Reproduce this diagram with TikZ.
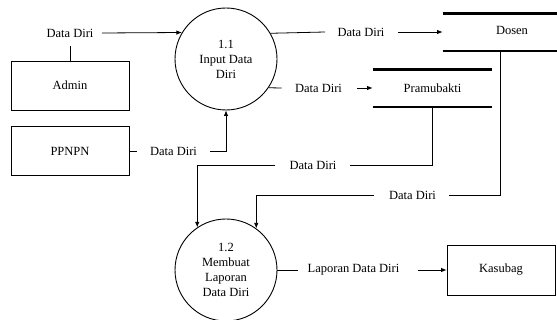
\documentclass[tikz,border=0pt]{standalone}
\usepackage{fontspec}
\setmainfont{Liberation Serif}
\newfontfamily\dfdfont{Liberation Serif}
\usetikzlibrary{arrows.meta}
\begin{document}
\begin{tikzpicture}[x=1pt,y=-1pt,
  font=\dfdfont\fontsize{12.5}{15}\selectfont,
  line width=0.8pt,
  proc/.style={draw, circle, minimum size=102pt, inner sep=0pt, align=center, line width=0.9pt},
  ent/.style={draw, minimum width=118pt, minimum height=49pt, inner sep=0pt},
  storebox/.style={minimum width=#1, minimum height=37pt, inner sep=0pt},
  lbl/.style={inner sep=0pt, anchor=center},
  arr/.style={-{Latex[length=5.5pt,width=4.5pt]}},
  storeline/.style={line width=2.2pt}]
\useasboundingbox (0,0) rectangle (557,320);

% processes
\node[proc] (p1) at (226,59) {1.1\\Input Data\\Diri};
\node[proc] (p2) at (226,270) {1.2\\Membuat\\Laporan\\Data Diri};

% external entities
\node[ent] (admin) at (70,85.5) {Admin};
\node[ent] (ppnpn) at (70,151) {PPNPN};
\node[ent, minimum width=108pt, minimum height=50pt] (kasubag) at (501,270) {Kasubag};

% data stores
\node[storebox=114pt] (dosen) at (500,32.5) {};
\node (dosenT) at (512,30) {Dosen};
\draw[storeline] (dosen.north west) -- (dosen.north east);
\draw[storeline] (dosen.south west) -- (dosen.south east);
\node[storebox=119pt] (pram) at (432.5,88.5) {Pramubakti};
\draw[storeline] (pram.north west) -- (pram.north east);
\draw[storeline] (pram.south west) -- (pram.south east);

% flow labels
\node[lbl] (l1) at (70,33) {Data Diri};
\node[lbl] (l2) at (173.5,151) {Data Diri};
\node[lbl] (l3) at (361,32) {Data Diri};
\node[lbl] (l4) at (318.5,88) {Data Diri};
\node[lbl] (l5) at (313,165) {Data Diri};
\node[lbl] (l6) at (412.5,195) {Data Diri};
\node[lbl] (l7) at (353.5,270) {Laporan Data Diri};

% flows
\draw (admin.north) -- ([yshift=-8.5pt]admin.north |- l1.south);
\draw[arr] ([xshift=8pt]l1.east) -- (p1.149.4);

\draw (ppnpn.east) -- ([xshift=-13pt]l2.west);
\draw[arr] ([xshift=13pt]l2.east) -| (p1.south);

\draw (p1.30.6) -- ([xshift=-12pt]l3.west);
\draw[arr] ([xshift=13pt]l3.east) -- (dosen.west |- l3);

\draw (p1.-34.7) -- ([xshift=-13pt]l4.west);
\draw[arr] ([xshift=15pt]l4.east) -- (pram.west |- l4);

\draw (pram.south) |- ([xshift=13pt]l5.east);
\draw[arr] ([xshift=-14pt]l5.west) -| (p2.124.7);

\draw (dosen.south) |- ([xshift=13pt]l6.east);
\draw[arr] ([xshift=-15pt]l6.west) -| (p2.54);

\draw (p2.east) -- ([xshift=-9pt]l7.west);
\draw[arr] ([xshift=18pt]l7.east) -- (kasubag.west);
\end{tikzpicture}
\end{document}
